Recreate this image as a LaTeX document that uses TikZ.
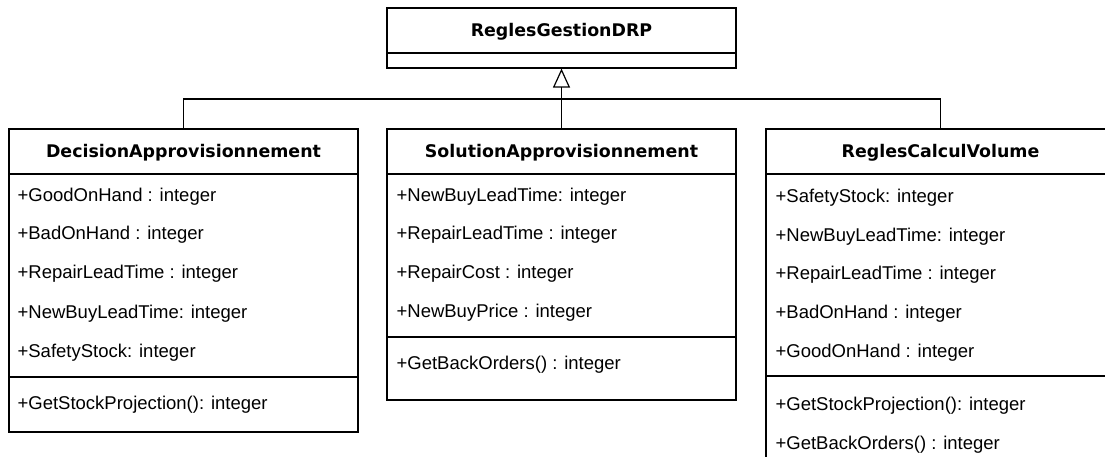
\documentclass[tikz,border=0pt]{standalone}
\usepackage{fontspec}
\setmainfont{Liberation Sans}
\newfontfamily\titlefont{DejaVu Sans}
\usetikzlibrary{arrows.meta}

\begin{document}
\begin{tikzpicture}[x=1pt,y=-1pt,line width=1.2pt,
	box/.style={draw,inner sep=0pt,minimum width=349pt},
	head/.style={box,minimum height=45pt,text height=12.7pt,text depth=0pt,
		font=\titlefont\bfseries\fontsize{17.4}{20}\selectfont},
	member/.style={anchor=base west,inner sep=0pt,font=\fontsize{18.5}{22}\selectfont}]

\useasboundingbox (0,0) rectangle (1105,457);
\clip (0,0) rectangle (1105,457);

\node[head] (rg) at (561.5,30.5) {ReglesGestionDRP};
\node[box,minimum height=15pt] (rgb) at (561.5,60.5) {};

\node[head] (da) at (183.5,151.5) {DecisionApprovisionnement};
\node[box,minimum height=203pt] (daa) at (183.5,275.5) {};
\node[box,minimum height=55pt] (dam) at (183.5,404.5) {};

\node[member] (da1) at (17,201.6) {+GoodOnHand : integer};
\node[member] (da2) at (17,239.6) {+BadOnHand : integer};
\node[member] (da3) at (17,278.6) {+RepairLeadTime : integer};
\node[member] (da4) at (17,318.3) {+NewBuyLeadTime: integer};
\node[member] (da5) at (17,357.6) {+SafetyStock: integer};
\node[member] (da6) at (17,409.6) {+GetStockProjection(): integer};

\node[head] (sa) at (561.5,151.5) {SolutionApprovisionnement};
\node[box,minimum height=163pt] (saa) at (561.5,255.5) {};
\node[box,minimum height=63pt] (sam) at (561.5,368.5) {};

\node[member] (sa1) at (396,201.6) {+NewBuyLeadTime: integer};
\node[member] (sa2) at (396,239.6) {+RepairLeadTime : integer};
\node[member] (sa3) at (396,278.6) {+RepairCost : integer};
\node[member] (sa4) at (396,317.6) {+NewBuyPrice : integer};
\node[member] (sa5) at (396,369.6) {+GetBackOrders() : integer};

\node[head] (rc) at (940.5,151.5) {ReglesCalculVolume};
\node[box,minimum height=202pt] (rca) at (940.5,275) {};
\node[box,minimum height=104pt] (rcm) at (940.5,428) {};

\node[member] (rc1) at (775,202.3) {+SafetyStock: integer};
\node[member] (rc2) at (775,241.3) {+NewBuyLeadTime: integer};
\node[member] (rc3) at (775,279.6) {+RepairLeadTime : integer};
\node[member] (rc4) at (775,318.6) {+BadOnHand : integer};
\node[member] (rc5) at (775,357.6) {+GoodOnHand : integer};
\node[member] (rc6) at (775,410.6) {+GetStockProjection(): integer};
\node[member] (rc7) at (775,449.6) {+GetBackOrders() : integer};

\coordinate (join) at (561.5,99);

\draw (da.north) |- (join) -| (rc.north);
\draw[-{Triangle[open,length=19pt,width=17pt]}] (sa.north) -- (rgb.south);

\end{tikzpicture}
\end{document}
